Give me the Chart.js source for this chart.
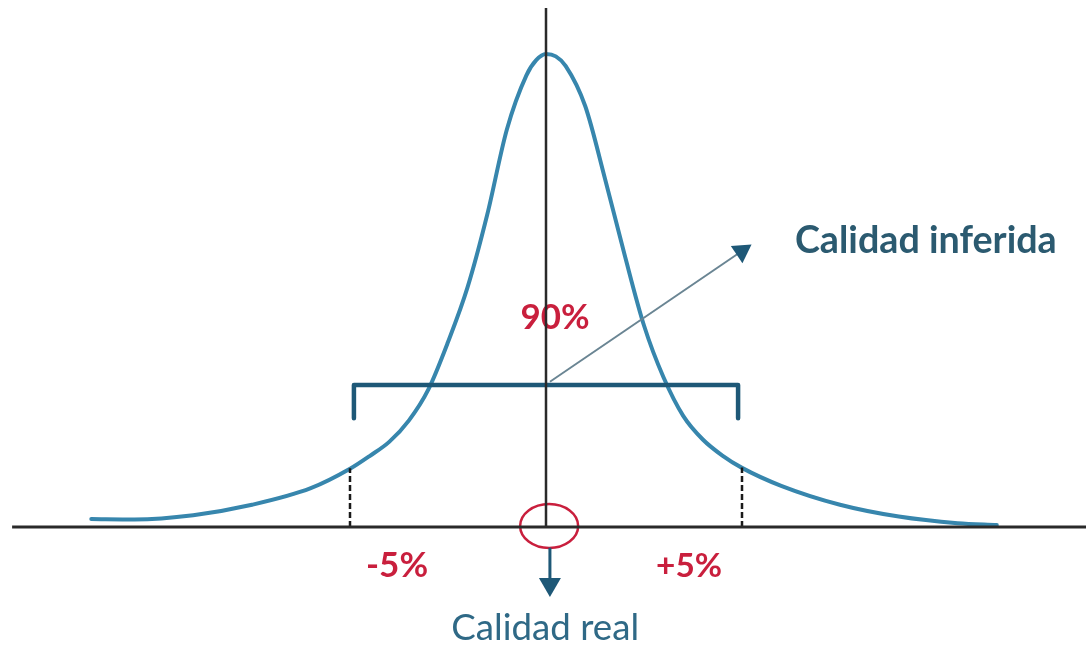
<!DOCTYPE html>
<html>
<head>
<meta charset="utf-8">
<script src="https://cdn.jsdelivr.net/npm/chart.js@4.4.1/dist/chart.umd.min.js"></script>
<style>
  html, body { margin: 0; padding: 0; background: #fff; }
  #wrap { width: 1086px; height: 649px; position: relative; }
</style>
</head>
<body>
<div id="wrap"><canvas id="bellChart"></canvas></div>
<script>
// desviación respecto a la calidad real (%) y densidad relativa (pico = 100)
const desviacion = [-11.6, -10.5, -9, -7.5, -6, -5, -4.5, -4, -3.5, -3, -2.5, -2, -1.5, -1, -0.5, -0.25, 0, 0.25, 0.5, 1, 1.5, 2, 2.5, 3, 3.5, 4, 4.5, 5, 6, 7.5, 9, 10.5, 11.5];
const densidad = [1.7, 1.6, 2.5, 4.7, 8.2, 12.3, 15.0, 18.0, 22.5, 29.1, 39.1, 50.7, 66, 84, 95.5, 98.7, 100, 99.5, 97.5, 89, 73.8, 57.7, 42.6, 31.6, 23.5, 18.5, 15.1, 12.5, 8.7, 4.7, 2.2, 0.8, 0.4];

// límites del intervalo
const limites = [-5, 5];
const limiteAltura = [12.4, 12.6];
const limiteTexto = ["-5%", "+5%"];
const nivelConfianza = "90%";
const etiquetaInferida = "Calidad inferida";
const etiquetaReal = "Calidad real";

const BLUE = "#3786ad";
const TEAL = "#1e5877";
const RED = "#c91f3d";
const FONT = "Lato, 'Open Sans', sans-serif";

function pts(xs, ys) {
  return xs.map((x, i) => ({ x: x, y: ys[i] }));
}

// texts and the red ring, drawn under the lines
const annotations = {
  id: "annotations",
  beforeDatasetsDraw(chart) {
    const ctx = chart.ctx;
    const xs = chart.scales.x, ys = chart.scales.y;
    const X = v => xs.getPixelForValue(v);
    const Y = v => ys.getPixelForValue(v);

    function fitText(text, weight, width) {
      ctx.font = weight + " 30px " + FONT;
      const size = 30 * width / ctx.measureText(text).width;
      ctx.font = weight + " " + size.toFixed(1) + "px " + FONT;
    }

    ctx.save();
    ctx.textBaseline = "alphabetic";

    // red ellipse at the origin
    ctx.strokeStyle = RED;
    ctx.lineWidth = 2.5;
    ctx.beginPath();
    ctx.ellipse(X(0.08), Y(0.2), X(0.74) - X(0), Y(0) - Y(4.65), 0, 0, Math.PI * 2);
    ctx.stroke();

    ctx.fillStyle = RED;
    ctx.textAlign = "center";
    fitText(nivelConfianza, "bold", 69);
    ctx.fillText(nivelConfianza, X(0.23), Y(41.9));
    fitText(limiteTexto[0], "bold", 62);
    ctx.fillText(limiteTexto[0], X(-3.8), Y(-10.6));
    fitText(limiteTexto[1], "bold", 66);
    ctx.fillText(limiteTexto[1], X(3.65), Y(-10.6));

    ctx.fillStyle = "#2b5a70";
    ctx.textAlign = "left";
    fitText(etiquetaInferida, "bold", 262);
    ctx.fillText(etiquetaInferida, X(6.35), Y(57.9));

    ctx.fillStyle = "#2f6986";
    ctx.textAlign = "center";
    fitText(etiquetaReal, "normal", 188);
    ctx.fillText(etiquetaReal, X(-0.02), Y(-23.9));
    ctx.restore();
  }
};

const ctx = document.getElementById("bellChart").getContext("2d");
new Chart(ctx, {
  type: "line",
  data: {
    datasets: [
      { // eje vertical
        data: pts([0, 0], [0, 109.7]),
        borderColor: "#2a2a2a", borderWidth: 2.5, pointRadius: 0
      },
      { // eje horizontal
        data: pts([-13.62, 13.8], [0, 0]),
        borderColor: "#2a2a2a", borderWidth: 3, pointRadius: 0
      },
      { // flecha hacia calidad real
        data: pts([0.1, 0.1], [-4.4, -12.1]),
        borderColor: TEAL, borderWidth: 3,
        pointRadius: [0, 12.7], pointStyle: "triangle", pointRotation: 180,
        pointBackgroundColor: TEAL, pointBorderWidth: 0
      },
      { // flecha hacia calidad inferida
        data: pts([0.1, 4.99], [30.7, 58.3]),
        borderColor: "#6a8593", borderWidth: 2,
        pointRadius: [0, 12], pointStyle: "triangle", pointRotation: 56,
        pointBackgroundColor: TEAL, pointBorderWidth: 0
      },
      { // corchete del 90%
        data: pts([-4.9, -4.9, 4.9, 4.9], [23, 30, 30, 23]),
        borderColor: TEAL, borderWidth: 4.5, borderJoinStyle: "round",
        borderCapStyle: "round", pointRadius: 0, tension: 0
      },
      { // límite -5%
        data: pts([limites[0], limites[0]], [0, limiteAltura[0]]),
        borderColor: "#1a1a1a", borderWidth: 2.5, borderDash: [6, 3], pointRadius: 0
      },
      { // límite +5%
        data: pts([limites[1], limites[1]], [0, limiteAltura[1]]),
        borderColor: "#1a1a1a", borderWidth: 2.5, borderDash: [6, 3], pointRadius: 0
      },
      { // curva de calidad
        data: pts(desviacion, densidad),
        borderColor: BLUE, borderWidth: 4, pointRadius: 0,
        cubicInterpolationMode: "monotone", borderCapStyle: "round"
      }
    ]
  },
  options: {
    responsive: true,
    maintainAspectRatio: false,
    animation: false,
    layout: { padding: 0, autoPadding: false },
    plugins: { legend: { display: false }, tooltip: { enabled: false } },
    scales: {
      x: { type: "linear", display: false, min: -546 / 39.2, max: 540 / 39.2 },
      y: { type: "linear", display: false, min: -122 / 4.73, max: 527 / 4.73 }
    }
  },
  plugins: [annotations]
});
</script>
</body>
</html>
